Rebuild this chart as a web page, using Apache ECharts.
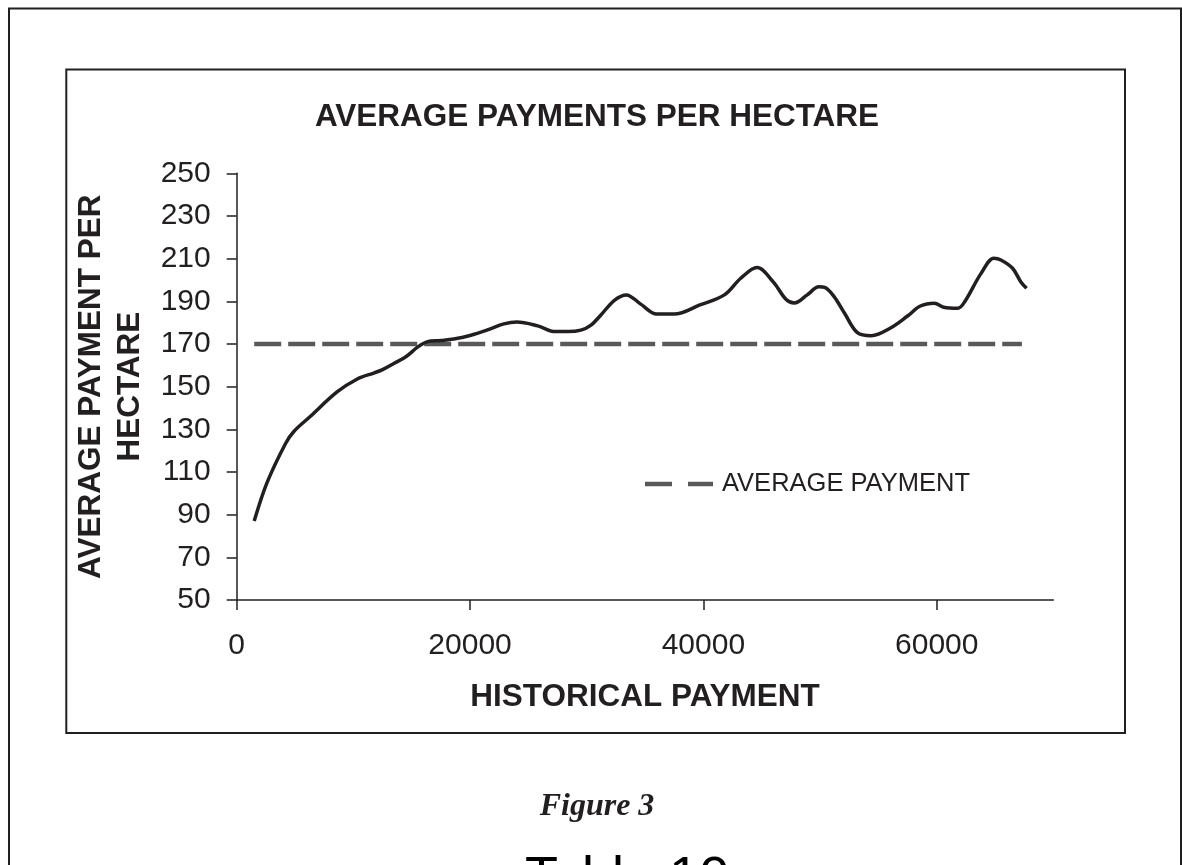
<!DOCTYPE html>
<html>
<head>
<meta charset="utf-8">
<script src="https://cdn.jsdelivr.net/npm/echarts@6/dist/echarts.min.js"></script>
<style>
html,body{margin:0;padding:0;background:#fff;}
#chart{width:1182px;height:865px;}
</style>
</head>
<body>
<div id="chart"></div>
<script>
// Data
const historicalPayment = [1500, 2600, 4200, 4900, 6300, 8600, 10300, 11800, 12500, 13500, 14500, 15500, 16300, 17500, 18600, 20000, 21500, 22900, 24000, 25800, 27300, 28400, 29500, 30400, 31200, 32400, 33400, 34600, 36000, 37500, 39700, 41800, 43200, 44600, 46000, 47100, 47800, 48900, 49900, 50400, 51200, 52100, 53200, 54400, 56000, 57500, 58600, 59800, 60600, 61800, 62400, 63800, 64900, 65500, 66500, 67200, 67700];
const avgPerHectare = [87, 105, 123.5, 129, 136, 147.5, 153.5, 156.5, 158, 161, 164, 168.5, 171, 171.6, 172.3, 174, 176.6, 179.4, 180.3, 178.5, 175.8, 175.8, 176.5, 179, 183.5, 190.6, 193, 188.8, 184, 184, 188.3, 193, 200.8, 205.8, 199, 190.8, 189.2, 193, 196.8, 196.5, 192.2, 184.4, 175.3, 173.9, 177.4, 183.1, 187.8, 189.1, 187.2, 186.7, 189.8, 203.1, 210.2, 209.4, 205.5, 199.2, 196.1];
const averageLineX = [1500, 67300];
const averagePaymentValue = 170;
const xTickValues = [0, 20000, 40000, 60000];

const chartTitle = 'AVERAGE PAYMENTS PER HECTARE';
const xAxisName = 'HISTORICAL PAYMENT';
const yAxisName = 'AVERAGE PAYMENT PER\nHECTARE';
const legendName = 'AVERAGE PAYMENT';
const figureCaption = 'Figure 3';
const bottomText = 'Table 10';

const ink = '#231f20';
const dashGrey = '#58595b';
const sans = "'Liberation Sans', Arial, sans-serif";

const mainData = historicalPayment.map((x, i) => [x, avgPerHectare[i]]);
const avgData = averageLineX.map(x => [x, averagePaymentValue]);

const chart = echarts.init(document.getElementById('chart'), null, {renderer: 'canvas'});
chart.setOption({
  backgroundColor: '#ffffff',
  animation: false,
  textStyle: {fontFamily: sans, color: ink},
  title: {
    text: chartTitle,
    left: 592, top: 96, textAlign: 'center',
    textStyle: {fontFamily: sans, fontSize: 31.5, fontWeight: 'bold', color: ink}
  },
  legend: {
    data: [{name: legendName, icon: 'path://M0,0H27V4.5H0Z M43,0H68V4.5H43Z'}],
    left: 645, top: 471, padding: 0,
    itemWidth: 68, itemHeight: 4.5,
    textStyle: {fontFamily: sans, fontSize: 25.5, color: ink, padding: [0, 0, 0, 4]}
  },
  grid: {left: 236.7, top: 173.3, width: 816.7, height: 426.7, containLabel: false},
  xAxis: {
    type: 'value', min: 0, max: 70000, interval: 20000,
    name: xAxisName, nameLocation: 'middle', nameGap: 81,
    nameTextStyle: {fontFamily: sans, fontSize: 31.5, fontWeight: 'bold', color: ink},
    axisLine: {show: true, lineStyle: {color: ink, width: 1.5}},
    axisTick: {show: true, inside: false, length: 10, customValues: xTickValues, lineStyle: {color: ink, width: 1.5}},
    axisLabel: {customValues: xTickValues, margin: 31, fontFamily: sans, fontSize: 30, color: ink,
      formatter: v => String(v)},
    splitLine: {show: false}
  },
  yAxis: {
    type: 'value', min: 50, max: 250, interval: 20,
    name: yAxisName, nameLocation: 'middle', nameGap: 86,
    nameTextStyle: {fontFamily: sans, fontSize: 31.5, fontWeight: 'bold', color: ink, lineHeight: 39, align: 'center'},
    axisLine: {show: true, lineStyle: {color: ink, width: 1.5}},
    axisTick: {show: true, inside: false, length: 10, lineStyle: {color: ink, width: 1.5}},
    axisLabel: {margin: 26, fontFamily: sans, fontSize: 30, color: ink},
    splitLine: {show: false}
  },
  series: [
    {
      name: 'AVERAGE PAYMENT PER HECTARE',
      type: 'line',
      data: mainData,
      smooth: 0.35,
      showSymbol: false,
      symbol: 'none',
      lineStyle: {color: ink, width: 3.5},
      z: 3
    },
    {
      name: legendName,
      type: 'line',
      data: avgData,
      showSymbol: false,
      symbol: 'none',
      lineStyle: {color: dashGrey, width: 4.5, type: [27, 7], cap: 'butt'},
      itemStyle: {color: dashGrey},
      z: 2
    }
  ],
  graphic: [
    {type: 'rect', shape: {x: 9, y: 8.5, width: 1172, height: 900}, style: {fill: 'none', stroke: ink, lineWidth: 2}, silent: true},
    {type: 'rect', shape: {x: 66.3, y: 69.5, width: 1058.7, height: 663.5}, style: {fill: 'none', stroke: ink, lineWidth: 2}, silent: true},
    {type: 'text', x: 597, y: 806.7, style: {text: figureCaption, fill: ink, font: "italic bold 32px 'Liberation Serif', 'Times New Roman', serif", textAlign: 'center', textVerticalAlign: 'middle'}, silent: true},
    {type: 'text', x: 525, y: 852, style: {text: bottomText, fill: '#000', font: "54px 'Liberation Sans', Arial, sans-serif", textAlign: 'left', textVerticalAlign: 'top'}, silent: true}
  ]
});
</script>
</body>
</html>
